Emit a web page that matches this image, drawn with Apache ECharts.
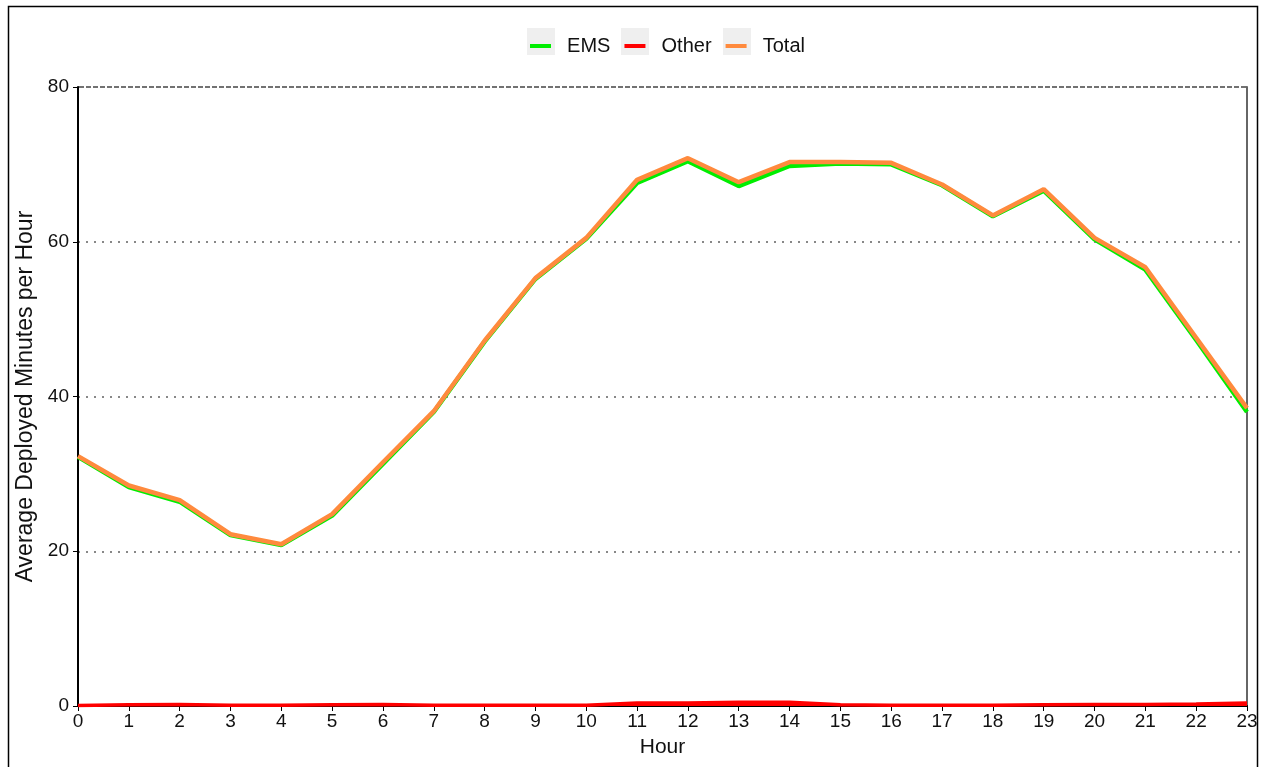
<!DOCTYPE html>
<html>
<head>
<meta charset="utf-8">
<script src="https://cdn.jsdelivr.net/npm/echarts@6/dist/echarts.min.js"></script>
<style>
  html, body { margin: 0; padding: 0; background: #fff; }
  #chart { width: 1264px; height: 767px; }
</style>
</head>
<body>
<div id="chart"></div>
<script>
// 小时
var hours = ['0','1','2','3','4','5','6','7','8','9','10','11','12','13','14','15','16','17','18','19','20','21','22','23']
// 各类平均出动分钟
var emsData = [32.2, 28.3, 26.4, 22.1, 20.8, 24.6, 31.3, 38.0, 47.1, 55.2, 60.4, 67.6, 70.4, 67.2, 69.8, 70.1, 70.0, 67.3, 63.3, 66.6, 60.3, 56.4, 47.3, 38.0]
var otherData = [0.05, 0.15, 0.2, 0.1, 0.1, 0.15, 0.2, 0.1, 0.1, 0.1, 0.1, 0.4, 0.4, 0.5, 0.5, 0.15, 0.1, 0.1, 0.1, 0.15, 0.2, 0.2, 0.25, 0.4]
var totalData = [32.3, 28.5, 26.6, 22.2, 20.9, 24.8, 31.5, 38.1, 47.2, 55.3, 60.5, 68.0, 70.8, 67.7, 70.3, 70.3, 70.2, 67.4, 63.4, 66.8, 60.5, 56.7, 47.6, 38.5]
var yTicks = [0, 20, 40, 60, 80]

var font = 'Liberation Sans, Arial, sans-serif'

var chart = echarts.init(document.getElementById('chart'))
var option = {
  animation: false,
  backgroundColor: '#fff',
  textStyle: { fontFamily: font },
  graphic: [
    // 外框
    { type: 'rect', silent: true, shape: { x: 8.5, y: 6.5, width: 1249, height: 800 },
      style: { fill: 'none', stroke: '#000', lineWidth: 1.5 }, z: -1 },
    // 图例底色
    { type: 'rect', silent: true, shape: { x: 527, y: 28, width: 28, height: 27 }, style: { fill: '#efefef' }, z: -1 },
    { type: 'rect', silent: true, shape: { x: 621, y: 28, width: 28, height: 27 }, style: { fill: '#efefef' }, z: -1 },
    { type: 'rect', silent: true, shape: { x: 723, y: 28, width: 28, height: 27 }, style: { fill: '#efefef' }, z: -1 },
    // 顶部虚线边框
    { type: 'rect', silent: true, shape: { x: 79, y: 86, width: 1167, height: 2 }, style: { fill: '#fff' }, z: 20 },
    { type: 'line', silent: true, shape: { x1: 79, y1: 87, x2: 1247, y2: 87 },
      style: { stroke: '#444', lineWidth: 1.5, lineDash: [5, 2] }, z: 21 }
  ],
  legend: {
    top: 31,
    left: 525,
    itemWidth: 21,
    itemHeight: 4,
    itemGap: 14,
    icon: 'rect',
    formatter: function (name) { return '  ' + name },
    textStyle: { fontSize: 20, color: '#111', fontFamily: font },
    data: ['EMS', 'Other', 'Total']
  },
  grid: { left: 78, right: 17, top: 87, bottom: 61, containLabel: false },
  xAxis: {
    type: 'category',
    data: hours,
    boundaryGap: false,
    name: 'Hour',
    nameLocation: 'middle',
    nameGap: 31,
    nameTextStyle: { fontSize: 21, color: '#111', fontFamily: font },
    axisLine: { lineStyle: { color: '#000', width: 2 } },
    axisTick: { show: true, length: 5, lineStyle: { color: '#000', width: 1 } },
    axisLabel: { fontSize: 19, color: '#111', margin: 6, fontFamily: font },
    splitLine: { show: false }
  },
  yAxis: [{
    type: 'value',
    min: 0,
    max: 80,
    interval: 20,
    name: 'Average Deployed Minutes per Hour',
    nameLocation: 'middle',
    nameGap: 35,
    nameTextStyle: { fontSize: 23, color: '#111', fontFamily: font },
    axisLine: { show: true, lineStyle: { color: '#000', width: 2 } },
    axisTick: { show: true, length: 5, lineStyle: { color: '#000' } },
    axisLabel: {
      fontSize: 19, color: '#111', margin: 9, fontFamily: font,
      formatter: function (v) { return yTicks.indexOf(v) >= 0 ? String(v) : '' }
    },
    splitLine: { show: true, lineStyle: { color: '#888', width: 2, type: [2, 6] } }
  }, {
    type: 'value',
    min: 0,
    max: 80,
    interval: 20,
    position: 'right',
    axisLine: { show: true, lineStyle: { color: '#666', width: 2 } },
    axisTick: { show: false },
    axisLabel: { show: false },
    splitLine: { show: false }
  }],
  series: [{
    name: 'EMS',
    type: 'line',
    data: emsData,
    symbol: 'none',
    color: '#00ee00',
    lineStyle: { width: 4.5, color: '#00ee00' },
    z: 2
  }, {
    name: 'Other',
    type: 'line',
    data: otherData,
    symbol: 'none',
    color: '#ff0000',
    lineStyle: { width: 3.5, color: '#ff0000' },
    areaStyle: { color: '#ff0000', opacity: 1 },
    z: 3
  }, {
    name: 'Total',
    type: 'line',
    data: totalData,
    symbol: 'none',
    color: '#ff8a3d',
    lineStyle: { width: 4.5, color: '#ff8a3d' },
    z: 4
  }]
}
chart.setOption(option)

window.addEventListener('resize', function () {
  chart.resize()
})
</script>
</body>
</html>
